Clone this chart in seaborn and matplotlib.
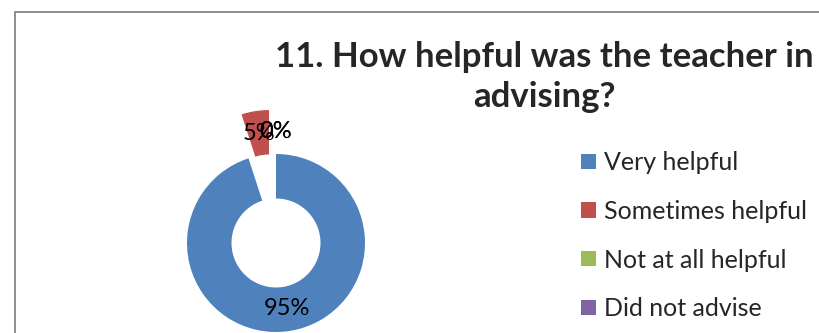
import matplotlib
matplotlib.use("Agg")
import matplotlib.pyplot as plt
import seaborn as sns
from matplotlib.patches import Patch, Rectangle

sns.set_style("white")
plt.rcParams['font.family'] = ['Lato', 'DejaVu Sans']

categories = ["Very helpful", "Sometimes helpful", "Not at all helpful", "Did not advise"]
values = [95, 5, 0, 0]
colors = ["#4F81BD", "#C0504D", "#9BBB59", "#8064A2"]
explode = [0, 0.5, 0.5, 0.5]
title_lines = ["11. How helpful was the teacher in", "advising?"]

W, H = 819, 333
fig = plt.figure(figsize=(W / 100, H / 100), dpi=100)

# chart frame
fig.patches.append(Rectangle((15 / W, -0.2), 1.0, 0.2 + (H - 12) / H, transform=fig.transFigure,
                             fill=False, edgecolor="#868686", linewidth=1.3, zorder=0))

# donut axes: center (276, 243) px, radius 89 px
cx, cy, r = 276, H - 243, 89
ax = fig.add_axes([(cx - 2 * r) / W, (cy - 2 * r) / H, 4 * r / W, 4 * r / H])
wedges, texts, autotexts = ax.pie(
    values, colors=colors, explode=explode, startangle=90, counterclock=False,
    autopct=lambda p: f"{p:.0f}%", pctdistance=0.75,
    wedgeprops=dict(width=0.5, linewidth=0),
    textprops=dict(fontsize=17, color="black"))
ax.set_xlim(-2, 2)
ax.set_ylim(-2, 2)
ax.set_aspect("auto")
ax.axis("off")

fig.text(544 / W, 1 - 57 / H, title_lines[0], ha="center", va="center",
         fontsize=25, fontweight="bold")
fig.text(544 / W, 1 - 97 / H, title_lines[1], ha="center", va="center",
         fontsize=25, fontweight="bold")

handles = [Patch(facecolor=c, edgecolor="none") for c in colors]
fig.legend(handles, categories, loc="upper left", bbox_to_anchor=(581 / W, 1 - 151 / H),
           frameon=False, fontsize=18, handlelength=0.6, handleheight=0.6,
           handletextpad=0.3, labelspacing=1.03, borderaxespad=0, borderpad=0)
for h in fig.legends[0].legend_handles:
    oy, oh = h.get_y(), h.get_height()
    h.set_height(11)
    h.set_width(11)
    h.set_y(oy + (oh - 11) / 2)

fig.savefig("out.png", dpi=100)
